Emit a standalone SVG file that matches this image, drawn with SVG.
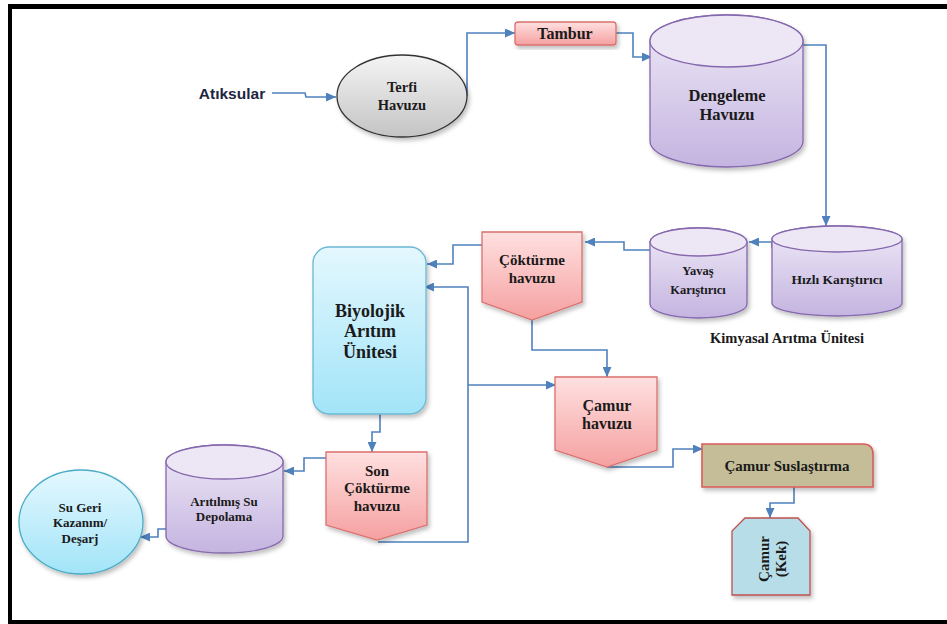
<svg xmlns="http://www.w3.org/2000/svg" width="947" height="624" viewBox="0 0 947 624">
<defs>
<style>
.t{font-family:"Liberation Serif","Times New Roman",serif;font-weight:bold;fill:#1a1a1a;text-anchor:middle}
.cyl{fill:url(#gPur);stroke:#8567ad;stroke-width:1.3}
.cylTop{fill:#ece6f5;stroke:#8567ad;stroke-width:1.3}
.pink{fill:url(#gPink);stroke:#d9706e;stroke-width:1.3}
.conn{fill:none;stroke:#4f81bd;stroke-width:1.6}
</style>
<linearGradient id="gPur" x1="0" y1="0" x2="0" y2="1"><stop offset="0" stop-color="#efeaf7"/><stop offset="1" stop-color="#c4b4e0"/></linearGradient>
<linearGradient id="gPink" x1="0" y1="0" x2="0" y2="1"><stop offset="0" stop-color="#ffe0e0"/><stop offset="1" stop-color="#f5a0a0"/></linearGradient>
<linearGradient id="gGray" x1="0" y1="0" x2="0" y2="1"><stop offset="0" stop-color="#f4f4f4"/><stop offset="1" stop-color="#c4c4c4"/></linearGradient>
<linearGradient id="gCyan" x1="0" y1="0" x2="0" y2="1"><stop offset="0" stop-color="#e4f8fe"/><stop offset="1" stop-color="#a2e4f8"/></linearGradient>
<filter id="sh" x="-20%" y="-20%" width="140%" height="140%"><feDropShadow dx="2" dy="3" stdDeviation="2" flood-color="#000" flood-opacity="0.25"/></filter>
<marker id="ar" markerUnits="userSpaceOnUse" markerWidth="11" markerHeight="9" refX="10" refY="4.5" orient="auto"><path d="M0,0 L10,4.5 L0,9 Z" fill="#4f81bd"/></marker>
</defs>
<rect width="947" height="624" fill="#fff"/>
<g id="frame" fill="#000">
<rect x="8" y="4" width="939" height="5"/>
<rect x="8" y="4" width="4" height="620"/>
<rect x="8" y="620" width="939" height="4"/>
</g>

<g id="connectors" class="conn" marker-end="url(#ar)">
<path class="conn" d="M272,93 L305,93 L306,97 L336,97" marker-end="url(#ar)"/>
<path class="conn" d="M467,96 L467,33 L515,33" marker-end="url(#ar)"/>
<path class="conn" d="M616,33 L633,33 L633,57 L652,57" marker-end="url(#ar)"/>
<path class="conn" d="M803,45 L826,45 L826,226" marker-end="url(#ar)"/>
<path class="conn" d="M802,247 L772,247 L772,242 L749,242" marker-end="url(#ar)"/>
<path class="conn" d="M663,250 L624,250 L624,242 L585,242" marker-end="url(#ar)"/>
<path class="conn" d="M482,245 L453,245 L453,264 L427,264" marker-end="url(#ar)"/>
<path class="conn" d="M378,542 L468,542 L468,287 L424,287" marker-end="url(#ar)"/>
<path class="conn" d="M468,385 L556,385" marker-end="url(#ar)"/>
<path class="conn" d="M532,320 L532,350 L607,350 L607,377" marker-end="url(#ar)"/>
<path class="conn" d="M607,467 L673,467 L673,449 L703,449" marker-end="url(#ar)"/>
<path class="conn" d="M794,487 L794,503 L770,503 L770,518" marker-end="url(#ar)"/>
<path class="conn" d="M380,414 L380,432 L372,432 L372,452" marker-end="url(#ar)"/>
<path class="conn" d="M326,458 L304,458 L304,471 L284,471" marker-end="url(#ar)"/>
<path class="conn" d="M180,529 L158,529 L158,537 L140,537" marker-end="url(#ar)"/>
</g>

<g id="atiksular">
<text x="232" y="99" style="font-family:'Liberation Sans',Arial,sans-serif;font-weight:bold;font-size:15.5px;fill:#1c2640;text-anchor:middle">Atıksular</text>
</g>

<g id="terfi">
<ellipse cx="402" cy="96" rx="65" ry="41" fill="url(#gGray)" stroke="#333" stroke-width="1.3" filter="url(#sh)"/>
<text class="t" x="402" y="92" font-size="14.5">Terfi</text>
<text class="t" x="402" y="110" font-size="14.5">Havuzu</text>
</g>

<g id="tambur">
<rect x="515" y="22" width="101" height="23" rx="3" class="pink" filter="url(#sh)"/>
<text class="t" x="565" y="39" font-size="16">Tambur</text>
</g>

<g id="dengeleme">
<path class="cyl" filter="url(#sh)" d="M650,41 L650,141 A76.5,26 0 0 0 803,141 L803,41 A76.5,26 0 0 0 650,41 Z"/>
<ellipse class="cylTop" cx="726.5" cy="41" rx="76.5" ry="26"/>
<text class="t" x="727" y="101" font-size="16.5">Dengeleme</text>
<text class="t" x="727" y="120" font-size="16.5">Havuzu</text>
</g>

<g id="hizli">
<path class="cyl" filter="url(#sh)" d="M772,239 L772,303 A65,13 0 0 0 902,303 L902,239 A65,13 0 0 0 772,239 Z"/>
<ellipse class="cylTop" cx="837" cy="239" rx="65" ry="13"/>
<text class="t" x="837" y="284" font-size="13.5">Hızlı Karıştırıcı</text>
</g>

<g id="yavas">
<path class="cyl" filter="url(#sh)" d="M650,242 L650,304 A48.5,14 0 0 0 747,304 L747,242 A48.5,14 0 0 0 650,242 Z"/>
<ellipse class="cylTop" cx="698.5" cy="242" rx="48.5" ry="14"/>
<text class="t" x="698" y="275" font-size="12.5">Yavaş</text>
<text class="t" x="698" y="294" font-size="12.5">Karıştırıcı</text>
</g>

<g id="kimyasal">
<text class="t" x="787" y="343" font-size="14.5">Kimyasal Arıtma Ünitesi</text>
</g>

<g id="cokturme">
<path class="pink" filter="url(#sh)" d="M482,232 L582,232 L582,302 L532,320 L482,302 Z"/>
<text class="t" x="532" y="265" font-size="15">Çöktürme</text>
<text class="t" x="532" y="283" font-size="15">havuzu</text>
</g>

<g id="biyolojik">
<rect x="313" y="247" width="113" height="167" rx="16" fill="url(#gCyan)" stroke="#6bb8d4" stroke-width="1.3" filter="url(#sh)"/>
<text class="t" x="370" y="317" font-size="18">Biyolojik</text>
<text class="t" x="370" y="337" font-size="18">Arıtım</text>
<text class="t" x="370" y="358" font-size="18">Ünitesi</text>
</g>

<g id="camur-havuzu">
<path class="pink" filter="url(#sh)" d="M555,377 L657,377 L657,450 L607,467 L555,450 Z"/>
<text class="t" x="607" y="411" font-size="16">Çamur</text>
<text class="t" x="607" y="429" font-size="16">havuzu</text>
</g>

<g id="suslastirma">
<path d="M702,444 L863,444 Q873,444 873,454 L873,487 L702,487 Z" fill="#c4bd97" stroke="#d95c5a" stroke-width="1.6" filter="url(#sh)"/>
<text class="t" x="787" y="471" font-size="15">Çamur Suslaştırma</text>
</g>

<g id="kek">
<path d="M745,518 L798,518 L810,531 L810,595 L732,595 L732,531 Z" fill="#b7dee8" stroke="#c0504d" stroke-width="1.3" filter="url(#sh)"/>
<g transform="translate(771,559) rotate(-90)">
<text class="t" x="0" y="-2" font-size="15">Çamur</text>
<text class="t" x="0" y="15" font-size="15">(Kek)</text>
</g>
</g>

<g id="son-cokturme">
<path class="pink" filter="url(#sh)" d="M326,452 L427,452 L427,525 L377,540 L326,525 Z"/>
<text class="t" x="377" y="476" font-size="15">Son</text>
<text class="t" x="377" y="493" font-size="15">Çöktürme</text>
<text class="t" x="377" y="511" font-size="15">havuzu</text>
</g>

<g id="aritilmis">
<path class="cyl" filter="url(#sh)" d="M166,462 L166,536 A58.5,17 0 0 0 283,536 L283,462 A58.5,17 0 0 0 166,462 Z"/>
<ellipse class="cylTop" cx="224.5" cy="462" rx="58.5" ry="17"/>
<text class="t" x="224" y="506" font-size="13">Arıtılmış Su</text>
<text class="t" x="224" y="521" font-size="13">Depolama</text>
</g>

<g id="su-geri">
<ellipse cx="81" cy="522" rx="62" ry="52" fill="url(#gCyan)" stroke="#4bacc6" stroke-width="1.3" filter="url(#sh)"/>
<text class="t" x="80" y="512" font-size="13">Su Geri</text>
<text class="t" x="80" y="527" font-size="13">Kazanım/</text>
<text class="t" x="80" y="543" font-size="13">Deşarj</text>
</g>
</svg>
